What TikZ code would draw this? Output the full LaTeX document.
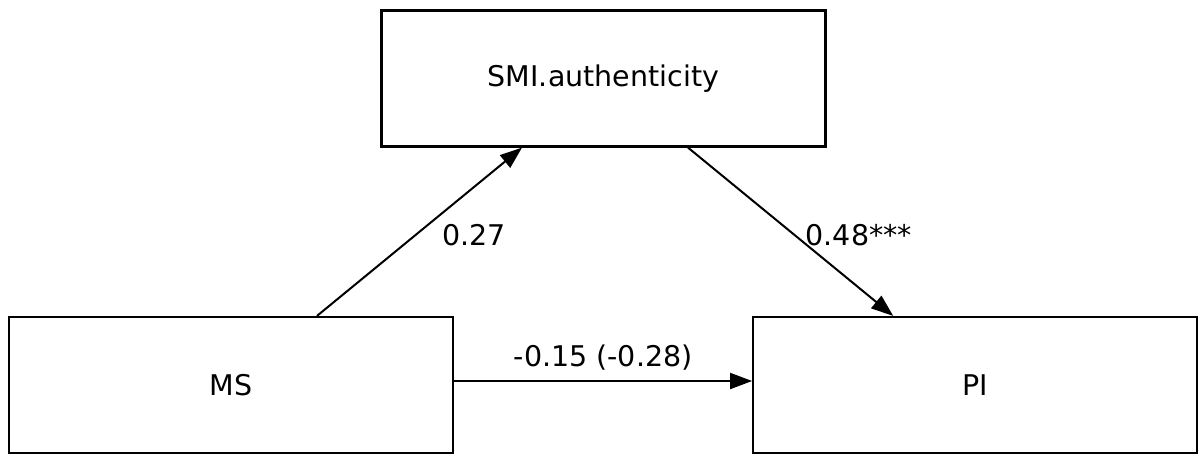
\documentclass[tikz,border=0pt]{standalone}
\usepackage{fontspec}
\setmainfont{DejaVu Sans}
\usetikzlibrary{positioning,arrows.meta}

\begin{document}
\begin{tikzpicture}[x=1pt,y=-1pt,
	var/.style={draw,line width=2.2pt,minimum width=444pt,minimum height=136pt,inner sep=0pt,font=\fontsize{28.5}{32}\selectfont},
	path/.style={line width=2pt,-{Triangle[length=22pt,width=16pt]}},
	coef/.style={inner sep=0pt,font=\fontsize{28.5}{32}\selectfont}]
\useasboundingbox (0,0) rectangle (1198,455);
\node[var] (smi) at (603.5,78.5) {SMI.authenticity};
\node[var] (ms) at (231,385) {MS};
\node[var,right=298pt of ms] (pi) {PI};
\draw[path] ([xshift=86pt]ms.north) -- node[coef,pos=0.48,anchor=west,xshift=26pt] {0.27} ([xshift=-81.5pt]smi.south);
\draw[path] ([xshift=84.5pt]smi.south) -- node[coef,pos=0.52,anchor=west,xshift=10pt] {0.48***} ([xshift=-82pt]pi.north);
\draw[path] ([yshift=4pt]ms.east) -- node[coef,above=10pt] {-0.15 (-0.28)} ([yshift=4pt]pi.west);
\end{tikzpicture}
\end{document}
